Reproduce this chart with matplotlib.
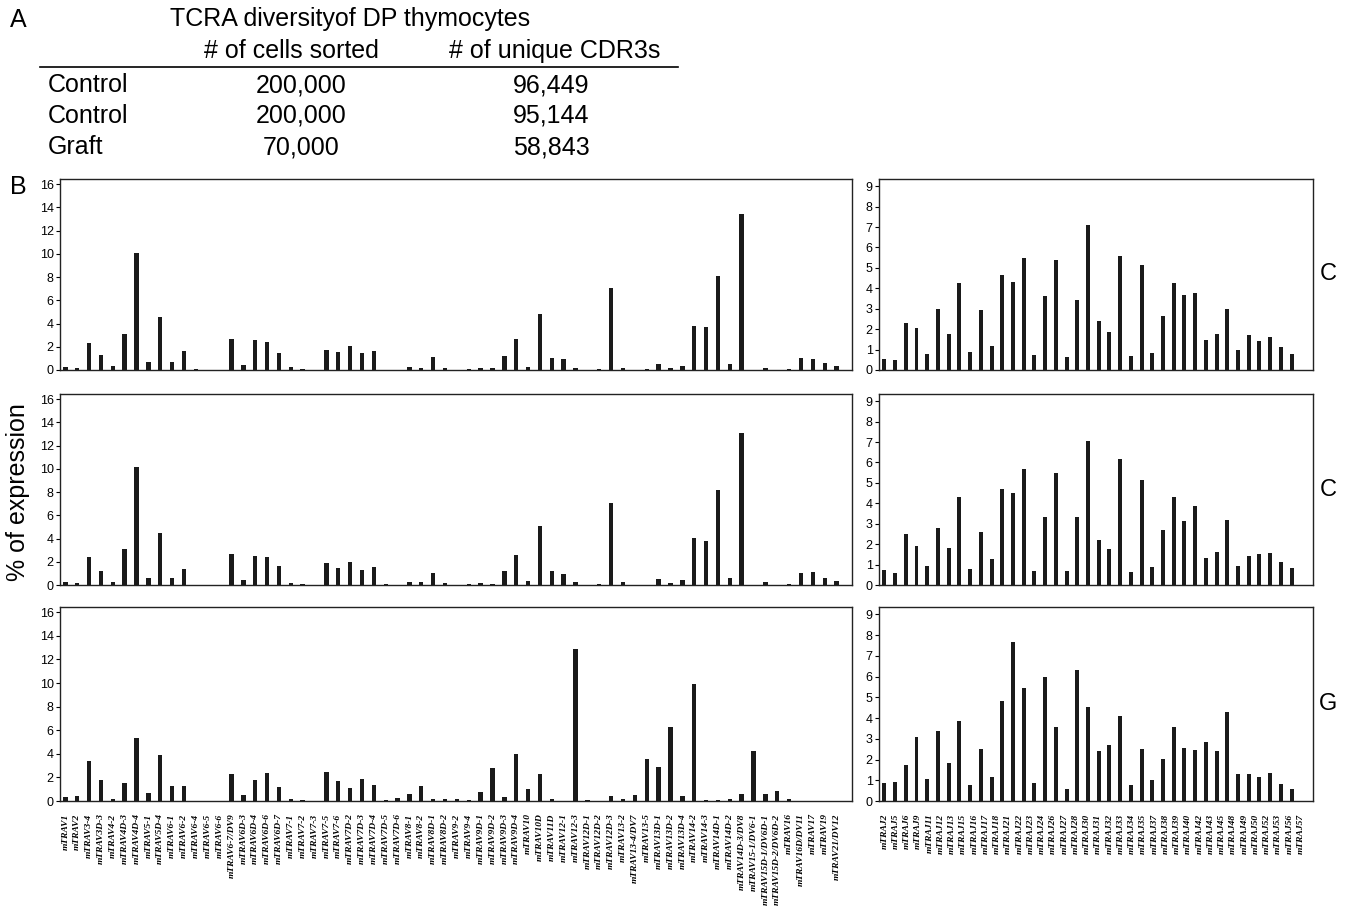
import numpy as np
import matplotlib
matplotlib.use("Agg")
import matplotlib.pyplot as plt
from matplotlib.lines import Line2D

plt.rcParams['font.family'] = ['Liberation Sans', 'DejaVu Sans']

# TRAV (left panels)
trav_labels = ["mTRAV1", "mTRAV2", "mTRAV3-4", "mTRAV3D-3", "mTRAV4-2", "mTRAV4D-3", "mTRAV4D-4",
               "mTRAV5-1", "mTRAV5D-4", "mTRAV6-1", "mTRAV6-2", "mTRAV6-4", "mTRAV6-5", "mTRAV6-6",
               "mTRAV6-7/DV9", "mTRAV6D-3", "mTRAV6D-4", "mTRAV6D-6", "mTRAV6D-7", "mTRAV7-1",
               "mTRAV7-2", "mTRAV7-3", "mTRAV7-5", "mTRAV7-6", "mTRAV7D-2", "mTRAV7D-3", "mTRAV7D-4",
               "mTRAV7D-5", "mTRAV7D-6", "mTRAV8-1", "mTRAV8-2", "mTRAV8D-1", "mTRAV8D-2", "mTRAV9-2",
               "mTRAV9-4", "mTRAV9D-1", "mTRAV9D-2", "mTRAV9D-3", "mTRAV9D-4", "mTRAV10", "mTRAV10D",
               "mTRAV11D", "mTRAV12-1", "mTRAV12-3", "mTRAV12D-1", "mTRAV12D-2", "mTRAV12D-3",
               "mTRAV13-2", "mTRAV13-4/DV7", "mTRAV13-5", "mTRAV13D-1", "mTRAV13D-2", "mTRAV13D-4",
               "mTRAV14-2", "mTRAV14-3", "mTRAV14D-1", "mTRAV14D-2", "mTRAV14D-3/DV8",
               "mTRAV15-1/DV6-1", "mTRAV15D-1/DV6D-1", "mTRAV15D-2/DV6D-2", "mTRAV16",
               "mTRAV16D/DV11", "mTRAV17", "mTRAV19", "mTRAV21/DV12"]

trav_control1 = [0.26, 0.17, 2.33, 1.26, 0.32, 3.07, 10.09, 0.66, 4.54, 0.7, 1.64, 0.05, 0, 0,
                 2.64, 0.43, 2.59, 2.38, 1.49, 0.23, 0.08, 0, 1.72, 1.52, 2.07, 1.44, 1.64, 0, 0,
                 0.29, 0.17, 1.12, 0.17, 0, 0.05, 0.17, 0.17, 1.24, 2.64, 0.26, 4.86, 1.0, 0.95,
                 0.2, 0, 0.05, 7.04, 0.2, 0, 0.05, 0.49, 0.17, 0.37, 3.79, 3.68, 8.13, 0.55,
                 13.45, 0, 0.14, 0, 0.09, 1.06, 0.95, 0.57, 0.32]

trav_control2 = [0.23, 0.14, 2.39, 1.18, 0.29, 3.1, 10.17, 0.6, 4.48, 0.6, 1.35, 0, 0, 0,
                 2.64, 0.43, 2.53, 2.39, 1.67, 0.2, 0.08, 0, 1.93, 1.47, 1.95, 1.26, 1.52, 0.06, 0,
                 0.29, 0.23, 1.0, 0.17, 0, 0.05, 0.2, 0.1, 1.24, 2.61, 0.32, 5.11, 1.2, 0.95,
                 0.23, 0, 0.1, 7.07, 0.26, 0, 0, 0.49, 0.2, 0.46, 4.05, 3.79, 8.16, 0.57,
                 13.13, 0, 0.23, 0, 0.1, 1.03, 1.09, 0.63, 0.37]

trav_graft = [0.3, 0.4, 3.4, 1.8, 0.15, 1.55, 5.3, 0.65, 3.9, 1.25, 1.25, 0, 0, 0,
              2.3, 0.55, 1.8, 2.4, 1.2, 0.15, 0.1, 0, 2.5, 1.7, 1.1, 1.9, 1.35, 0.1, 0.25,
              0.6, 1.25, 0.2, 0.15, 0.15, 0.1, 0.8, 2.8, 0.3, 3.95, 1.0, 2.25, 0.2, 0,
              12.9, 0.1, 0, 0.4, 0.2, 0.5, 3.6, 2.9, 6.3, 0.4, 9.9, 0.1, 0.1, 0.2,
              0.6, 4.2, 0.6, 0.85, 0.15, 0, 0, 0, 0]

# TRAJ (right panels)
traj_labels = ["mTRAJ2", "mTRAJ5", "mTRAJ6", "mTRAJ9", "mTRAJ11", "mTRAJ12", "mTRAJ13", "mTRAJ15",
               "mTRAJ16", "mTRAJ17", "mTRAJ18", "mTRAJ21", "mTRAJ22", "mTRAJ23", "mTRAJ24",
               "mTRAJ26", "mTRAJ27", "mTRAJ28", "mTRAJ30", "mTRAJ31", "mTRAJ32", "mTRAJ33",
               "mTRAJ34", "mTRAJ35", "mTRAJ37", "mTRAJ38", "mTRAJ39", "mTRAJ40", "mTRAJ42",
               "mTRAJ43", "mTRAJ45", "mTRAJ48", "mTRAJ49", "mTRAJ50", "mTRAJ52", "mTRAJ53",
               "mTRAJ56", "mTRAJ57"]

traj_control1 = [0.54, 0.47, 2.3, 2.08, 0.8, 3.0, 1.74, 4.25, 0.88, 2.94, 1.19, 4.63, 4.33, 5.5,
                 0.75, 3.64, 5.39, 0.62, 3.44, 7.11, 2.42, 1.85, 5.6, 0.7, 5.15, 0.84, 2.66, 4.25,
                 3.69, 3.75, 1.46, 1.75, 3.0, 0.99, 1.69, 1.44, 1.61, 1.12, 0.78]

traj_control2 = [0.74, 0.58, 2.48, 1.89, 0.92, 2.77, 1.79, 4.32, 0.76, 2.61, 1.29, 4.68, 4.52, 5.66,
                 0.68, 3.35, 5.5, 0.69, 3.31, 7.05, 2.18, 1.74, 6.16, 0.65, 5.13, 0.87, 2.71, 4.31,
                 3.13, 3.87, 1.34, 1.63, 3.18, 0.92, 1.40, 1.52, 1.58, 1.13, 0.82]

traj_graft = [0.86, 0.91, 1.72, 3.08, 1.07, 3.39, 1.83, 3.87, 0.78, 2.51, 1.17, 4.8, 7.65, 5.45,
              0.86, 5.96, 3.57, 0.58, 6.29, 4.51, 2.43, 2.72, 4.1, 0.78, 2.5, 1.0, 2.03, 3.57,
              2.54, 2.48, 2.84, 2.43, 4.31, 1.28, 1.28, 1.15, 1.33, 0.83, 0.6]

panel_tags = ["C", "C", "G"]

W, H = 1351, 907
fig = plt.figure(figsize=(W / 100, H / 100), dpi=100)

def fx(px):
    return px / W

def fy(py):
    return 1 - py / H

# ---- part A: small table ----
tfs = 18
fig.text(fx(10), fy(20), "A", fontsize=18, va="center", ha="left")
fig.text(fx(170), fy(19), "TCRA diversityof DP thymocytes", fontsize=tfs, va="center", ha="left")
fig.text(fx(291), fy(51), "# of cells sorted", fontsize=tfs, va="center", ha="center")
fig.text(fx(555), fy(51), "# of unique CDR3s", fontsize=tfs, va="center", ha="center")
fig.add_artist(Line2D([fx(40), fx(678)], [fy(67), fy(67)], color="black", lw=1.2))
rows = [("Control", "200,000", "96,449"), ("Control", "200,000", "95,144"), ("Graft", "70,000", "58,843")]
for k, (name, cells, uniq) in enumerate(rows):
    y = fy(85 + 31 * k)
    fig.text(fx(48), y, name, fontsize=tfs, va="center", ha="left")
    fig.text(fx(301), y, cells, fontsize=tfs, va="center", ha="center")
    fig.text(fx(551), y, uniq, fontsize=tfs, va="center", ha="center")

fig.text(fx(10), fy(187), "B", fontsize=18, va="center", ha="left")
fig.text(fx(18), fy(492), "% of expression", fontsize=18, rotation=90, va="center", ha="center")

# ---- part B/C: bar panels ----
rows_px = [(179, 370), (394, 585), (607, 801)]
left_x = (60, 852)
right_x = (879, 1313)

label_font = dict(family=["Liberation Serif", "DejaVu Serif"], style="italic", weight="bold", size=6.8)

def style_axes(ax):
    for s in ax.spines.values():
        s.set_color("#222222")
        s.set_linewidth(1.0)
    ax.tick_params(axis="y", direction="out", length=3, width=0.8, labelsize=9, pad=1.5)
    ax.tick_params(axis="x", length=0, pad=9)

trav_sets = [trav_control1, trav_control2, trav_graft]
traj_sets = [traj_control1, traj_control2, traj_graft]
xa = np.arange(len(trav_labels))
xj = np.arange(len(traj_control1))

for r, (top, bot) in enumerate(rows_px):
    # left: TRAV
    axl = fig.add_axes([fx(left_x[0]), fy(bot), (left_x[1] - left_x[0]) / W, (bot - top) / H])
    axl.bar(xa, trav_sets[r], width=0.37, color="#1a1a1a")
    axl.set_xlim(-0.45, len(trav_labels) + 0.3)
    axl.set_ylim(0, 16.45)
    axl.set_yticks(range(0, 17, 2))
    style_axes(axl)
    if r == 2:
        axl.set_xticks(xa)
        axl.set_xticklabels(trav_labels, rotation=90, va="top", ha="center", fontdict=label_font)
    else:
        axl.set_xticks([])

    # right: TRAJ
    axr = fig.add_axes([fx(right_x[0]), fy(bot), (right_x[1] - right_x[0]) / W, (bot - top) / H])
    axr.bar(xj, traj_sets[r], width=0.37, color="#1a1a1a")
    axr.set_xlim(-0.5, len(xj) + 1.0)
    axr.set_ylim(0, 9.35)
    axr.set_yticks(range(0, 10))
    style_axes(axr)
    if r == 2:
        axr.set_xticks(np.arange(len(traj_labels)) * 1.05)
        axr.set_xticklabels(traj_labels, rotation=90, va="top", ha="center", fontdict=label_font)
    else:
        axr.set_xticks([])

    fig.text(fx(1328), fy((top + bot) / 2), panel_tags[r], fontsize=17, va="center", ha="center")

fig.savefig("out.png", dpi=100)
